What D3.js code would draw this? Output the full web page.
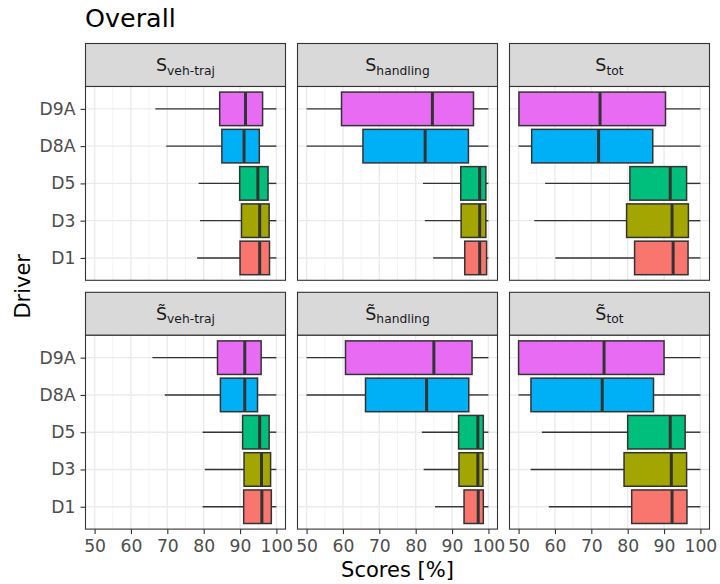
<!DOCTYPE html>
<html><head><meta charset="utf-8">
<script src="https://cdn.jsdelivr.net/npm/d3@7"></script>
<style>body{margin:0;background:#fff;} text{font-family:"DejaVu Sans",sans-serif;}</style>
</head><body>
<svg id="chart" width="720" height="584"></svg>
<script>
// ---- data ----
const drivers = ["D1", "D3", "D5", "D8A", "D9A"];
const driverColors = ["#F8766D", "#A3A500", "#00BF7D", "#00B0F6", "#E76BF3"];
const xTicks = [50, 60, 70, 80, 90, 100];
const panelMain = ["S", "S", "S", "S\u0303", "S\u0303", "S\u0303"];
const panelSub = ["veh-traj", "handling", "tot", "veh-traj", "handling", "tot"];
// [lower whisker, Q1, median, Q3, upper whisker], in driver order
const sVehTraj = [[78.2,90.0,95.4,98.1,100],[79.0,90.4,95.4,98.0,100],[78.6,89.9,94.9,97.7,100],[69.7,85.0,91.1,95.3,100],[66.7,84.4,91.5,96.2,100]];
const sHandling = [[84.8,93.5,97.6,99.5,100],[82.5,92.5,97.6,99.3,100],[82.0,92.4,97.6,99.3,100],[50.0,65.5,82.6,94.5,100],[50.0,59.6,84.6,95.9,100]];
const sTot = [[60.1,81.9,92.5,96.6,100],[54.3,79.7,92.2,96.7,100],[57.3,80.6,91.7,96.2,100],[50.0,53.6,72.0,86.9,100],[50.0,50.1,72.4,90.4,100]];
const tVehTraj = [[79.7,91.0,96.0,98.6,100],[80.3,91.1,95.9,98.4,100],[79.7,90.7,95.4,98.0,100],[69.3,84.6,91.3,94.8,100],[65.9,83.8,91.3,95.8,100]];
const tHandling = [[85.3,93.3,97.2,98.6,100],[82.2,91.9,97.1,98.5,100],[81.7,91.8,97.1,98.6,100],[50.0,66.2,83.0,94.6,100],[50.0,60.7,85.0,95.5,100]];
const tTot = [[58.3,81.1,92.2,96.3,100],[53.3,79.0,92.0,96.2,100],[56.4,80.0,91.7,95.8,100],[50.0,53.4,73.0,87.1,100],[50.0,50.0,73.5,90.0,100]];
const panelData = [sVehTraj, sHandling, sTot, tVehTraj, tHandling, tTot];

// ---- layout ----
const leftX = 85.5, panelW = 200, gapX = 12;
const topY = 43.5, stripH = 43, panelH = 193.8, gapY = 12;

const svg = d3.select("#chart");
const all = panelData.flat(2);
const ext = d3.extent(all);
const pad = (ext[1] - ext[0]) * 0.05;
const x = d3.scaleLinear().domain([ext[0] - pad, ext[1] + pad]).range([0, panelW]);
const y = d3.scalePoint().domain(drivers.slice().reverse()).range([0, panelH]).padding(0.6);
const step = y.step();
const minorTicks = [55, 65, 75, 85, 95];

svg.append("text").attr("x", 85).attr("y", 27).attr("font-size", 25.4).attr("fill", "#000").text("Overall");

panelData.forEach((data, i) => {
  const col = i % 3, row = Math.floor(i / 3);
  const px = leftX + col * (panelW + gapX);
  const sy = topY + row * (stripH + panelH + gapY);
  const py = sy + stripH;
  // strip
  svg.append("rect").attr("x", px).attr("y", sy).attr("width", panelW).attr("height", stripH)
    .attr("fill", "#D9D9D9").attr("stroke", "#333333").attr("stroke-width", 1.1);
  const t = svg.append("text").attr("x", px + panelW / 2).attr("y", sy + 27.5)
    .attr("text-anchor", "middle").attr("fill", "#1A1A1A");
  t.append("tspan").attr("font-size", 17.5).text(panelMain[i]);
  t.append("tspan").attr("font-size", 12.3).attr("dy", 3.6).text(panelSub[i]);

  const g = svg.append("g").attr("transform", `translate(${px},${py})`);
  g.append("rect").attr("width", panelW).attr("height", panelH).attr("fill", "#fff");
  g.selectAll(".mn").data(minorTicks).join("line").attr("x1", d => x(d)).attr("x2", d => x(d))
    .attr("y1", 0).attr("y2", panelH).attr("stroke", "#F3F3F3").attr("stroke-width", 0.9);
  g.selectAll(".mj").data(xTicks).join("line").attr("x1", d => x(d)).attr("x2", d => x(d))
    .attr("y1", 0).attr("y2", panelH).attr("stroke", "#EBEBEB").attr("stroke-width", 1.4);
  g.selectAll(".hy").data(drivers).join("line").attr("x1", 0).attr("x2", panelW)
    .attr("y1", d => y(d)).attr("y2", d => y(d)).attr("stroke", "#EBEBEB").attr("stroke-width", 1.4);

  const bh = step * 0.9;
  drivers.forEach((dr, j) => {
    const s = data[j], cy = y(dr);
    g.append("line").attr("x1", x(s[0])).attr("x2", x(s[1])).attr("y1", cy).attr("y2", cy)
      .attr("stroke", "#333333").attr("stroke-width", 1.4);
    g.append("line").attr("x1", x(s[3])).attr("x2", x(s[4])).attr("y1", cy).attr("y2", cy)
      .attr("stroke", "#333333").attr("stroke-width", 1.4);
    g.append("rect").attr("x", x(s[1])).attr("y", cy - bh / 2).attr("width", x(s[3]) - x(s[1])).attr("height", bh)
      .attr("fill", driverColors[j]).attr("stroke", "#333333").attr("stroke-width", 1.5);
    g.append("line").attr("x1", x(s[2])).attr("x2", x(s[2])).attr("y1", cy - bh / 2).attr("y2", cy + bh / 2)
      .attr("stroke", "#333333").attr("stroke-width", 3);
  });
  g.append("rect").attr("width", panelW).attr("height", panelH).attr("fill", "none")
    .attr("stroke", "#333333").attr("stroke-width", 1.1);

  if (row === 1) {
    const ax = g.append("g").attr("transform", `translate(0,${panelH})`)
      .call(d3.axisBottom(x).tickValues(xTicks).tickSize(5).tickPadding(6).tickFormat(d3.format("d")));
    ax.select(".domain").remove();
    ax.selectAll("line").attr("stroke", "#333333").attr("stroke-width", 1.1);
    ax.selectAll("text").attr("font-size", 17.2).attr("fill", "#4D4D4D").attr("font-family", "DejaVu Sans");
  }
  if (col === 0) {
    const ay = g.append("g").call(d3.axisLeft(y).tickSize(5).tickPadding(5));
    ay.select(".domain").remove();
    ay.selectAll("line").attr("stroke", "#333333").attr("stroke-width", 1.1);
    ay.selectAll("text").attr("font-size", 17.2).attr("fill", "#4D4D4D").attr("font-family", "DejaVu Sans");
  }
});

const totalBottom = topY + 2 * (stripH + panelH) + gapY;
svg.append("text").attr("x", leftX + (3 * panelW + 2 * gapX) / 2).attr("y", 577)
  .attr("text-anchor", "middle").attr("font-size", 21).attr("fill", "#000").text("Scores [%]");
svg.append("text").attr("transform", `translate(30,${(topY + totalBottom) / 2}) rotate(-90)`)
  .attr("text-anchor", "middle").attr("font-size", 21).attr("fill", "#000").text("Driver");
</script>
</body></html>
